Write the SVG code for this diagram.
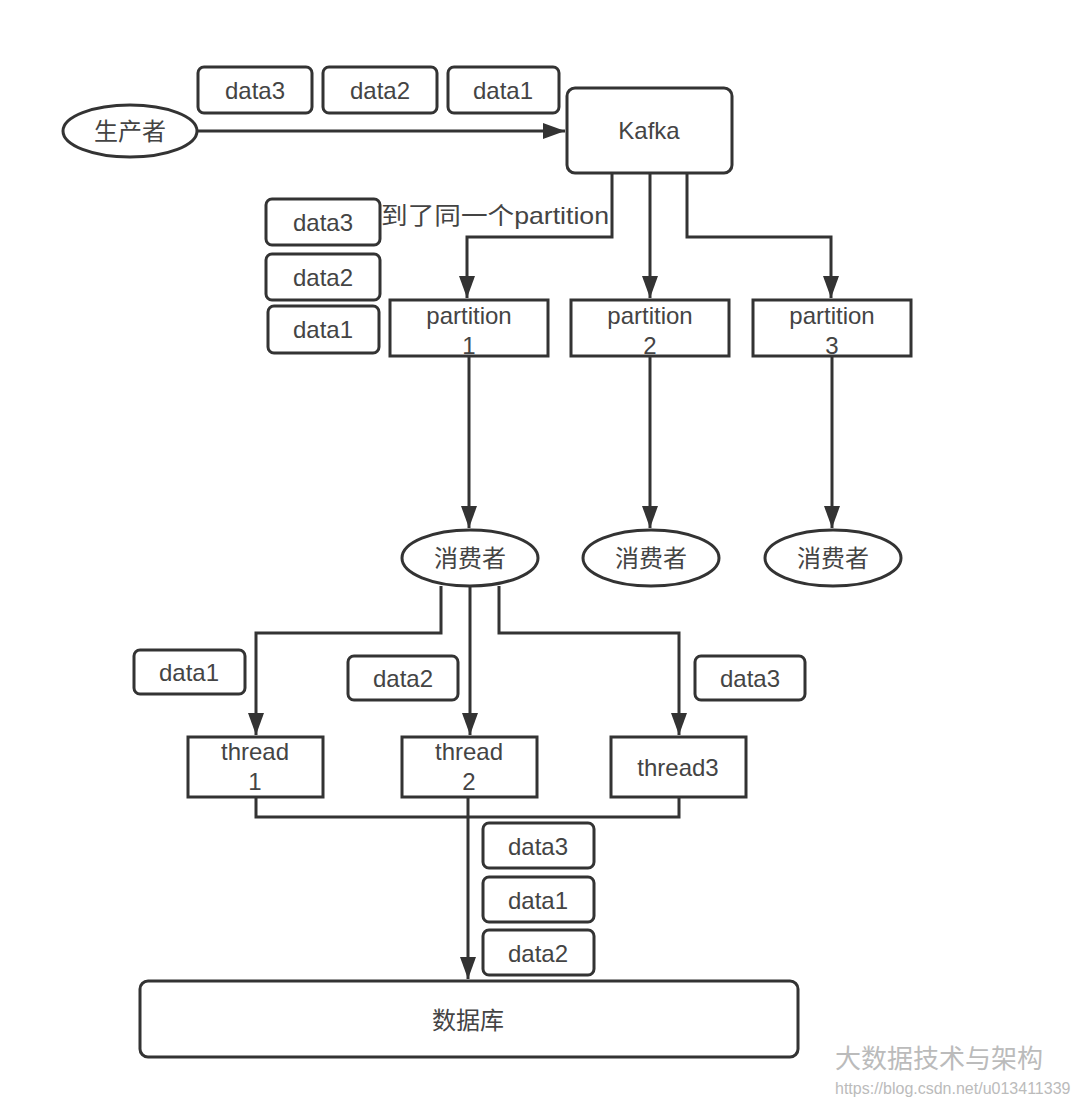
<svg xmlns="http://www.w3.org/2000/svg" width="1080" height="1109" viewBox="0 0 1080 1109">
<style>
.box{fill:#fff;stroke:#333;stroke-width:3}
.lbl{fill:#fff;stroke:#333;stroke-width:3}
.t{font-family:"Liberation Sans","Noto Sans CJK SC",sans-serif;font-size:24px;fill:#444;text-anchor:middle;dominant-baseline:central}
.c{fill:none;stroke:#333;stroke-width:3}
.wm{font-family:"Liberation Sans","Noto Sans CJK SC",sans-serif;fill:#bbb}
</style>
<defs>
<marker id="ah" markerUnits="userSpaceOnUse" markerWidth="24" markerHeight="18" refX="22" refY="8" orient="auto">
<path d="M0,0 L22,8 L0,16 z" fill="#333"/>
</marker>
</defs>
<rect width="1080" height="1109" fill="#fff"/>

<g id="connectors">
<path class="c" d="M197,131 H565" marker-end="url(#ah)"/>
<path class="c" d="M612,173 V237 H467 V298" marker-end="url(#ah)"/>
<path class="c" d="M650,173 V298" marker-end="url(#ah)"/>
<path class="c" d="M687,173 V237 H831 V298" marker-end="url(#ah)"/>
<path class="c" d="M469,356 V528" marker-end="url(#ah)"/>
<path class="c" d="M650,356 V528" marker-end="url(#ah)"/>
<path class="c" d="M832,356 V528" marker-end="url(#ah)"/>
<path class="c" d="M441,586 V633 H256 V735" marker-end="url(#ah)"/>
<path class="c" d="M470,586 V735" marker-end="url(#ah)"/>
<path class="c" d="M499,586 V633 H679 V735" marker-end="url(#ah)"/>
<path class="c" d="M256,797 V817 H679 V797"/>
<path class="c" d="M468,797 V979" marker-end="url(#ah)"/>
</g>

<g id="producer"><ellipse class="box" cx="130" cy="131" rx="67" ry="26"/><text class="t" x="130" y="131">生产者</text></g>
<g id="kafka"><rect class="box" x="567" y="88" width="165" height="85" rx="8"/><text class="t" x="649" y="130">Kafka</text></g>

<g id="d-top-3"><rect class="lbl" x="198" y="67" width="114" height="46" rx="6"/><text class="t" x="255" y="90">data3</text></g>
<g id="d-top-2"><rect class="lbl" x="323" y="67" width="114" height="46" rx="6"/><text class="t" x="380" y="90">data2</text></g>
<g id="d-top-1"><rect class="lbl" x="448" y="67" width="111" height="46" rx="6"/><text class="t" x="503" y="90">data1</text></g>

<g id="note"><text class="t" x="495" y="215" textLength="228" lengthAdjust="spacingAndGlyphs">到了同一个partition</text></g>

<g id="d-left-3"><rect class="lbl" x="266" y="199" width="114" height="46" rx="6"/><text class="t" x="323" y="222">data3</text></g>
<g id="d-left-2"><rect class="lbl" x="266" y="254" width="114" height="46" rx="6"/><text class="t" x="323" y="277">data2</text></g>
<g id="d-left-1"><rect class="lbl" x="268" y="306" width="111" height="47" rx="6"/><text class="t" x="323" y="329">data1</text></g>

<g id="partition1"><rect class="box" x="390" y="300" width="158" height="56"/><text class="t" x="469" y="315">partition</text><text class="t" x="469" y="345">1</text></g>
<g id="partition2"><rect class="box" x="571" y="300" width="158" height="56"/><text class="t" x="650" y="315">partition</text><text class="t" x="650" y="345">2</text></g>
<g id="partition3"><rect class="box" x="753" y="300" width="158" height="56"/><text class="t" x="832" y="315">partition</text><text class="t" x="832" y="345">3</text></g>

<g id="consumer1"><ellipse class="box" cx="470" cy="558" rx="68" ry="28"/><text class="t" x="470" y="558">消费者</text></g>
<g id="consumer2"><ellipse class="box" cx="651" cy="558" rx="68" ry="28"/><text class="t" x="651" y="558">消费者</text></g>
<g id="consumer3"><ellipse class="box" cx="833" cy="558" rx="68" ry="28"/><text class="t" x="833" y="558">消费者</text></g>

<g id="d-mid-1"><rect class="lbl" x="134" y="650" width="111" height="44" rx="6"/><text class="t" x="189" y="672">data1</text></g>
<g id="d-mid-2"><rect class="lbl" x="348" y="656" width="110" height="44" rx="6"/><text class="t" x="403" y="678">data2</text></g>
<g id="d-mid-3"><rect class="lbl" x="695" y="656" width="110" height="44" rx="6"/><text class="t" x="750" y="678">data3</text></g>

<g id="thread1"><rect class="box" x="188" y="737" width="135" height="60"/><text class="t" x="255" y="751">thread</text><text class="t" x="255" y="781">1</text></g>
<g id="thread2"><rect class="box" x="402" y="737" width="135" height="60"/><text class="t" x="469" y="751">thread</text><text class="t" x="469" y="781">2</text></g>
<g id="thread3"><rect class="box" x="611" y="737" width="135" height="60"/><text class="t" x="678" y="767">thread3</text></g>

<g id="d-bot-3"><rect class="lbl" x="483" y="823" width="111" height="45" rx="6"/><text class="t" x="538" y="846">data3</text></g>
<g id="d-bot-1"><rect class="lbl" x="483" y="877" width="111" height="45" rx="6"/><text class="t" x="538" y="900">data1</text></g>
<g id="d-bot-2"><rect class="lbl" x="483" y="930" width="111" height="45" rx="6"/><text class="t" x="538" y="953">data2</text></g>

<g id="database"><rect class="box" x="140" y="981" width="658" height="76" rx="8"/><text class="t" x="468" y="1020">数据库</text></g>

<g id="watermark">
<text class="wm" x="835" y="1068" font-size="26">大数据技术与架构</text>
<text class="wm" x="835" y="1094" font-size="16" fill="#ccc">https://blog.csdn.net/u013411339</text>
</g>
</svg>
